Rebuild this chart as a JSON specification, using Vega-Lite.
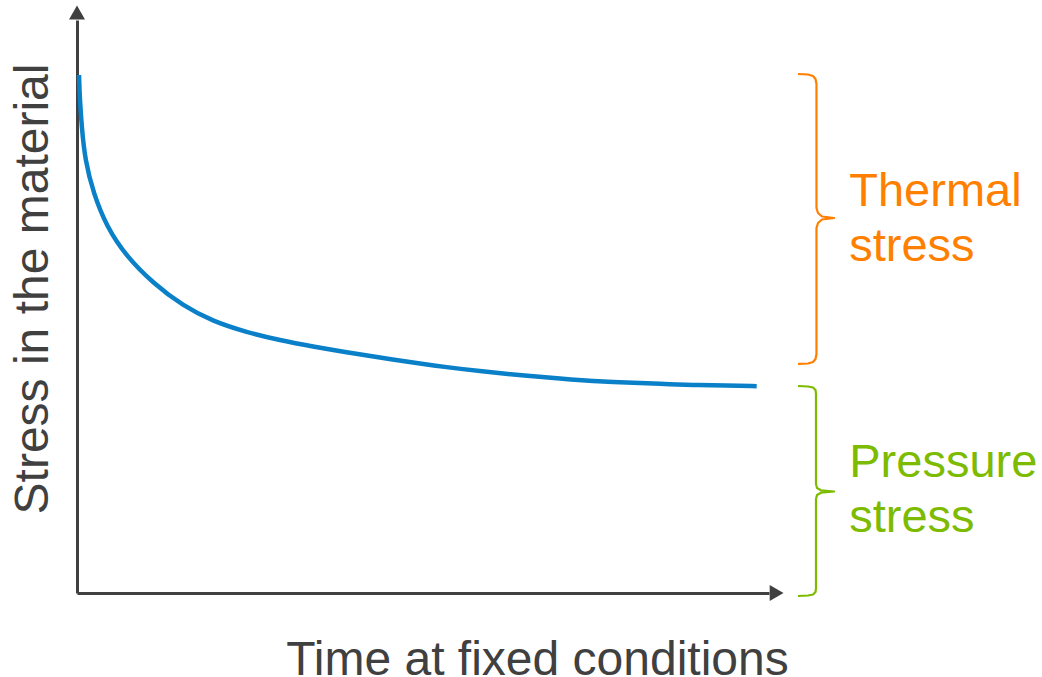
{
  "$schema": "https://vega.github.io/schema/vega-lite/v6.json",
  "width": 692,
  "height": 573,
  "autosize": {"type": "none"},
  "padding": {"left": 77, "top": 20, "right": 273, "bottom": 84},
  "background": "white",
  "config": {"view": {"stroke": null}, "font": "Liberation Sans"},
  "datasets": {
    "curve": [
      {"time": 0.29, "stress": 90.4},
      {"time": 0.35, "stress": 88.0},
      {"time": 0.45, "stress": 85.6},
      {"time": 0.68, "stress": 81.4},
      {"time": 1.16, "stress": 75.6},
      {"time": 2.36, "stress": 69.8},
      {"time": 4.29, "stress": 63.9},
      {"time": 7.18, "stress": 58.7},
      {"time": 10.98, "stress": 54.1},
      {"time": 15.32, "stress": 50.1},
      {"time": 19.65, "stress": 47.4},
      {"time": 24.52, "stress": 45.5},
      {"time": 29.34, "stress": 44.1},
      {"time": 34.10, "stress": 43.0},
      {"time": 38.97, "stress": 42.0},
      {"time": 43.79, "stress": 41.1},
      {"time": 48.55, "stress": 40.2},
      {"time": 53.42, "stress": 39.4},
      {"time": 58.24, "stress": 38.7},
      {"time": 64.99, "stress": 37.9},
      {"time": 69.80, "stress": 37.4},
      {"time": 74.57, "stress": 37.0},
      {"time": 79.44, "stress": 36.7},
      {"time": 84.25, "stress": 36.5},
      {"time": 89.02, "stress": 36.3},
      {"time": 93.89, "stress": 36.2},
      {"time": 98.22, "stress": 36.1}
    ],
    "braces": [
      {"group": "thermal", "order": 1, "time": 104.19, "stress": 90.58},
      {"group": "thermal", "order": 2, "time": 105.64, "stress": 90.49},
      {"group": "thermal", "order": 3, "time": 106.36, "stress": 90.23},
      {"group": "thermal", "order": 4, "time": 106.72, "stress": 89.70},
      {"group": "thermal", "order": 5, "time": 106.86, "stress": 88.83},
      {"group": "thermal", "order": 6, "time": 106.86, "stress": 67.19},
      {"group": "thermal", "order": 7, "time": 107.08, "stress": 66.32},
      {"group": "thermal", "order": 8, "time": 107.66, "stress": 65.71},
      {"group": "thermal", "order": 9, "time": 109.41, "stress": 65.45},
      {"group": "thermal", "order": 10, "time": 107.66, "stress": 65.18},
      {"group": "thermal", "order": 11, "time": 107.08, "stress": 64.57},
      {"group": "thermal", "order": 12, "time": 106.86, "stress": 63.70},
      {"group": "thermal", "order": 13, "time": 106.86, "stress": 41.71},
      {"group": "thermal", "order": 14, "time": 106.72, "stress": 40.84},
      {"group": "thermal", "order": 15, "time": 106.36, "stress": 40.31},
      {"group": "thermal", "order": 16, "time": 105.64, "stress": 40.05},
      {"group": "thermal", "order": 17, "time": 104.19, "stress": 39.97},
      {"group": "pressure", "order": 1, "time": 104.19, "stress": 36.13},
      {"group": "pressure", "order": 2, "time": 105.64, "stress": 36.04},
      {"group": "pressure", "order": 3, "time": 106.36, "stress": 35.86},
      {"group": "pressure", "order": 4, "time": 106.72, "stress": 35.43},
      {"group": "pressure", "order": 5, "time": 106.79, "stress": 34.73},
      {"group": "pressure", "order": 6, "time": 106.79, "stress": 19.02},
      {"group": "pressure", "order": 7, "time": 106.94, "stress": 18.32},
      {"group": "pressure", "order": 8, "time": 107.51, "stress": 17.92},
      {"group": "pressure", "order": 9, "time": 109.41, "stress": 17.71},
      {"group": "pressure", "order": 10, "time": 107.51, "stress": 17.50},
      {"group": "pressure", "order": 11, "time": 106.94, "stress": 17.10},
      {"group": "pressure", "order": 12, "time": 106.79, "stress": 16.40},
      {"group": "pressure", "order": 13, "time": 106.79, "stress": 0.87},
      {"group": "pressure", "order": 14, "time": 106.72, "stress": 0.17},
      {"group": "pressure", "order": 15, "time": 106.36, "stress": -0.26},
      {"group": "pressure", "order": 16, "time": 105.64, "stress": -0.44},
      {"group": "pressure", "order": 17, "time": 104.19, "stress": -0.52}
    ],
    "labels": [
      {"group": "thermal", "label": "Thermal", "time": 111.6, "stress": 67.5},
      {"group": "thermal", "label": "stress", "time": 111.6, "stress": 57.9},
      {"group": "pressure", "label": "Pressure", "time": 111.6, "stress": 20.3},
      {"group": "pressure", "label": "stress", "time": 111.6, "stress": 10.7}
    ],
    "arrows": [
      {"dir": "up", "time": 0, "stress": 101.3},
      {"dir": "right", "time": 101.1, "stress": 0}
    ]
  },
  "encoding": {
    "x": {
      "field": "time",
      "type": "quantitative",
      "scale": {"domain": [0, 100], "nice": false, "zero": false},
      "axis": {
        "title": "Time at fixed conditions",
        "domainColor": "#404040",
        "domainWidth": 3,
        "ticks": false,
        "labels": false,
        "grid": false,
        "titleFont": "Liberation Sans",
        "titleFontSize": 48,
        "titleFontWeight": "normal",
        "titleColor": "#404040",
        "titleX": 460,
        "titleY": 81,
        "titleBaseline": "alphabetic",
        "titleAlign": "center"
      }
    },
    "y": {
      "field": "stress",
      "type": "quantitative",
      "scale": {"domain": [0, 100], "nice": false, "zero": false},
      "axis": {
        "title": "Stress in the material",
        "domainColor": "#404040",
        "domainWidth": 3,
        "ticks": false,
        "labels": false,
        "grid": false,
        "titleFont": "Liberation Sans",
        "titleFontSize": 48,
        "titleFontWeight": "normal",
        "titleColor": "#404040",
        "titleAngle": 270,
        "titleX": -30,
        "titleY": 268.5,
        "titleBaseline": "alphabetic",
        "titleAlign": "center"
      }
    }
  },
  "layer": [
    {
      "data": {"name": "curve"},
      "mark": {"type": "line", "interpolate": "basis", "color": "#0A80C8", "strokeWidth": 4.5, "strokeCap": "butt"}
    },
    {
      "data": {"name": "braces"},
      "mark": {"type": "line", "strokeWidth": 2.2, "interpolate": "linear", "strokeJoin": "round"},
      "encoding": {
        "order": {"field": "order", "type": "quantitative"},
        "detail": {"field": "group"},
        "color": {"field": "group", "type": "nominal", "scale": {"domain": ["thermal", "pressure"], "range": ["#FF7F00", "#7CBB00"]}, "legend": null}
      }
    },
    {
      "data": {"name": "labels"},
      "mark": {"type": "text", "align": "left", "baseline": "alphabetic", "font": "Liberation Sans", "fontSize": 47},
      "encoding": {
        "text": {"field": "label"},
        "color": {"field": "group", "type": "nominal", "scale": {"domain": ["thermal", "pressure"], "range": ["#FF7F00", "#7CBB00"]}, "legend": null}
      }
    },
    {
      "data": {"name": "arrows"},
      "mark": {"type": "point", "filled": true, "size": 256, "color": "#404040", "opacity": 1},
      "encoding": {
        "shape": {"field": "dir", "type": "nominal", "scale": {"domain": ["up", "right"], "range": ["triangle-up", "triangle-right"]}, "legend": null}
      }
    }
  ]
}
